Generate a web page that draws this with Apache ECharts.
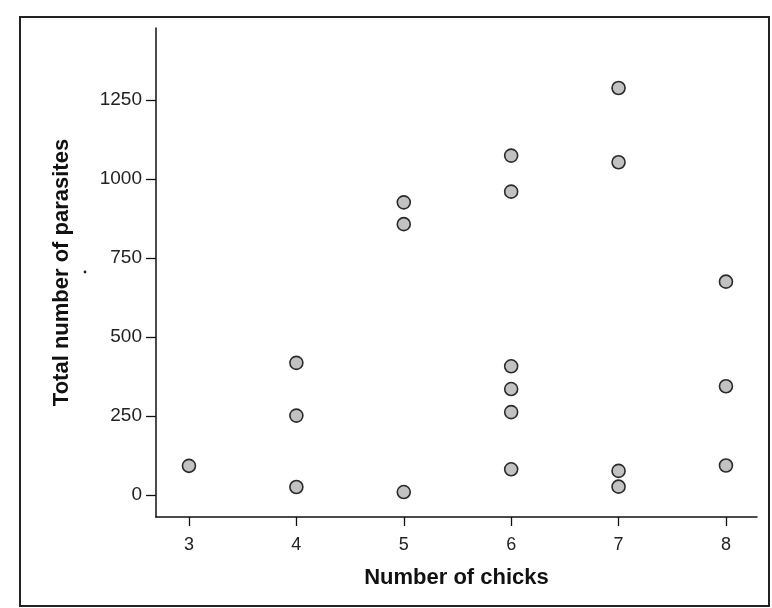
<!DOCTYPE html>
<html>
<head>
<meta charset="utf-8">
<script src="https://cdn.jsdelivr.net/npm/echarts@6/dist/echarts.min.js"></script>
<style>
html,body{margin:0;padding:0;background:#fff;}
#chart{width:772px;height:608px;}
</style>
</head>
<body>
<div id="chart"></div>
<script>
const chicks = [3, 4, 4, 4, 5, 5, 5, 6, 6, 6, 6, 6, 6, 7, 7, 7, 7, 8, 8, 8];
const parasites = [92, 418, 251, 25, 926, 857, 9, 1074, 960, 407, 335, 262, 81, 1288, 1053, 76, 26, 675, 344, 93];
const xTicks = [3, 4, 5, 6, 7, 8];
const yTicks = [0, 250, 500, 750, 1000, 1250];
const xTitle = 'Number of chicks';
const yTitle = 'Total number of parasites';

const points = chicks.map((c, i) => [c, parasites[i]]);

const chart = echarts.init(document.getElementById('chart'), null, {renderer: 'canvas'});
const font = '"Liberation Sans", Arial, sans-serif';
chart.setOption({
  animation: false,
  backgroundColor: '#ffffff',
  grid: {left: 156, right: 15, top: 28, bottom: 91, containLabel: false},
  xAxis: {
    type: 'value',
    min: 2.693, max: 8.289,
    name: xTitle,
    nameLocation: 'middle',
    nameGap: 50,
    nameTextStyle: {fontFamily: font, fontSize: 22, fontWeight: 'bold', color: '#111'},
    axisLine: {show: true, onZero: false, lineStyle: {color: '#111', width: 1.5}},
    axisTick: {show: true, inside: false, length: 9, customValues: xTicks, lineStyle: {color: '#111', width: 1.3}},
    axisLabel: {customValues: xTicks, margin: 19, fontFamily: font, fontSize: 18, color: '#222', formatter: v => String(v)},
    splitLine: {show: false}
  },
  yAxis: {
    type: 'value',
    min: -70, max: 1478,
    name: yTitle,
    nameLocation: 'middle',
    nameGap: 83,
    nameRotate: 90,
    nameTextStyle: {fontFamily: font, fontSize: 22, fontWeight: 'bold', color: '#111'},
    axisLine: {show: true, onZero: false, lineStyle: {color: '#111', width: 1.5}},
    axisTick: {show: true, inside: false, length: 10, customValues: yTicks, lineStyle: {color: '#111', width: 1.3}},
    axisLabel: {customValues: yTicks, margin: 14, fontFamily: font, fontSize: 19, color: '#222', formatter: v => String(v)},
    splitLine: {show: false}
  },
  graphic: [
    {type: 'rect', shape: {x: 20, y: 17, width: 749, height: 589}, style: {fill: 'none', stroke: '#222', lineWidth: 2}, silent: true, z: 0},
    {type: 'circle', shape: {cx: 85, cy: 272, r: 1.4}, style: {fill: '#222'}, silent: true}
  ],
  series: [{
    type: 'scatter',
    data: points,
    symbol: 'circle',
    symbolSize: 13,
    itemStyle: {color: '#c2c2c2', borderColor: '#2a2a2a', borderWidth: 1.6, opacity: 1}
  }]
});
</script>
</body>
</html>
